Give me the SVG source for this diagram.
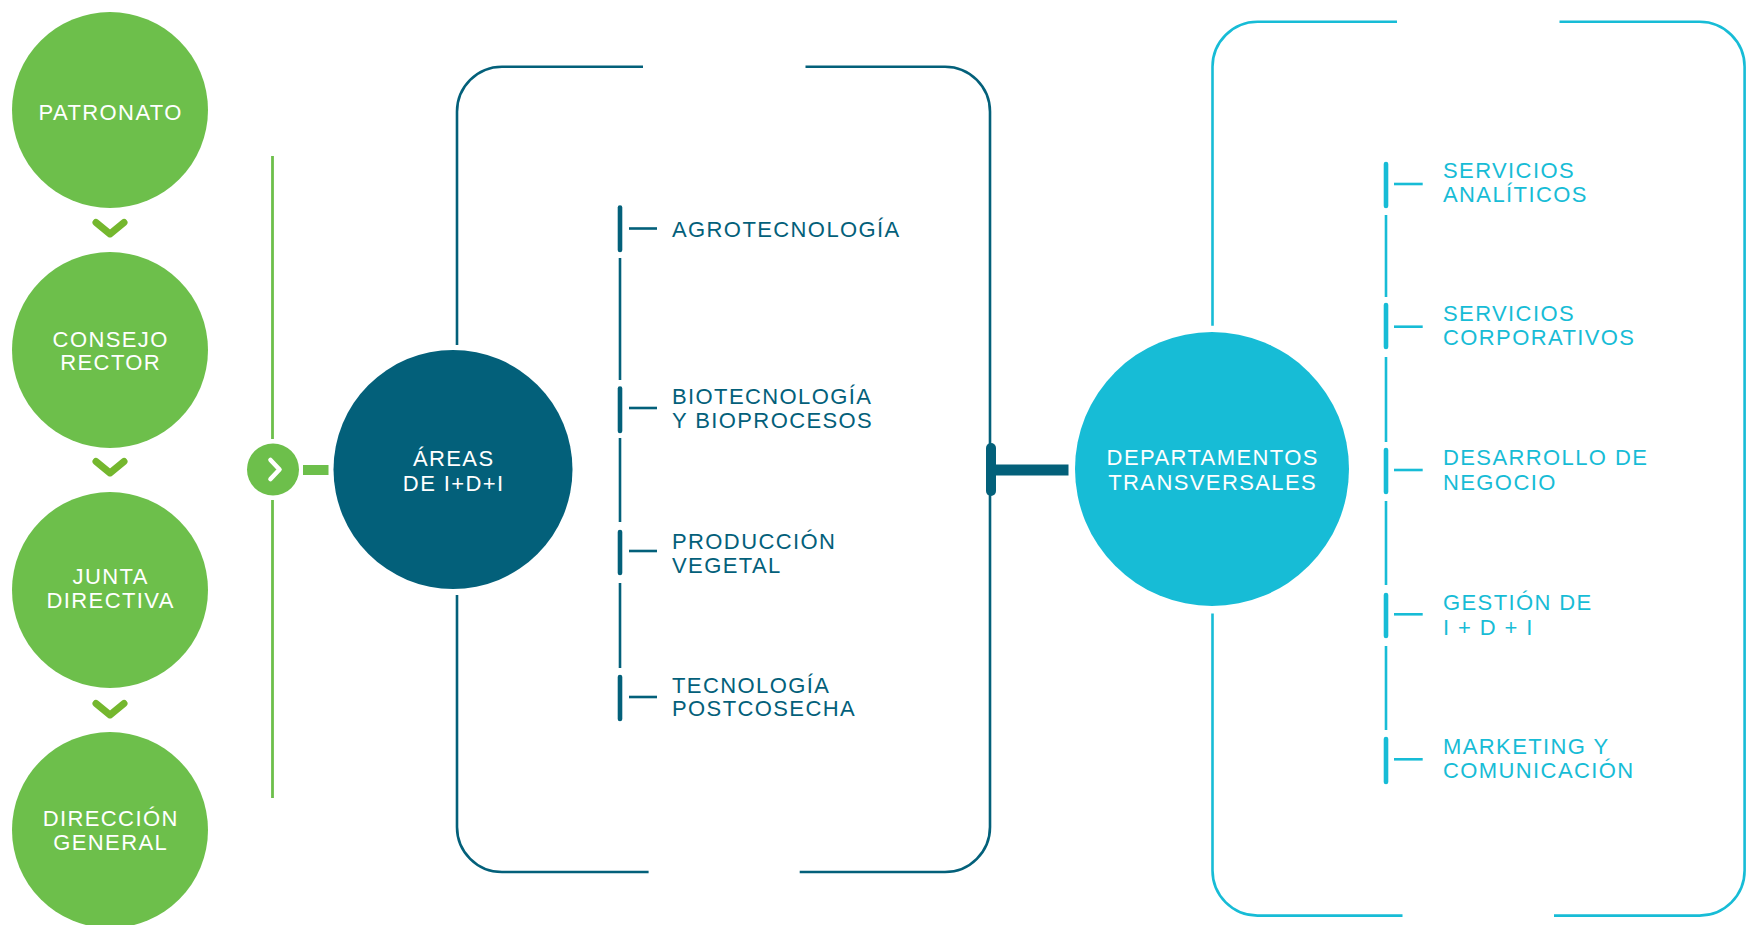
<svg xmlns="http://www.w3.org/2000/svg" width="1764" height="925" viewBox="0 0 1764 925">
<style>
text{font-family:"Liberation Sans",Arial,sans-serif;font-size:22px;letter-spacing:1.4px}
.w{fill:#ffffff}
.c{text-anchor:middle}
.tl{fill:#03607a}
.cl{fill:#17bcd6}
.gc{fill:#6dbf4b}
.chev{fill:none;stroke:#74b72e;stroke-width:7;stroke-linecap:round;stroke-linejoin:round}
.tealB{fill:none;stroke:#03607a;stroke-width:2.6}
.cyanB{fill:none;stroke:#17bcd6;stroke-width:2.6}
.thkT{stroke:#03607a;stroke-width:4.6;stroke-linecap:round}
.thnT{stroke:#03607a;stroke-width:2.6}
.thkC{stroke:#17bcd6;stroke-width:4.6;stroke-linecap:round}
.thnC{stroke:#17bcd6;stroke-width:2.6}
</style>
<rect width="1764" height="925" fill="#ffffff"/>

<g id="connectors">
  <!-- chevrons between governance circles -->
  <polyline class="chev" points="96,222.5 110,234 124,222.5"/>
  <polyline class="chev" points="96,461.5 110,473 124,461.5"/>
  <polyline class="chev" points="96,703.5 110,715 124,703.5"/>
  <!-- green vertical line -->
  <line x1="272.5" y1="156" x2="272.5" y2="439" stroke="#6dbf4b" stroke-width="2.8"/>
  <line x1="272.5" y1="500" x2="272.5" y2="798" stroke="#6dbf4b" stroke-width="2.8"/>
  <rect x="303" y="465" width="25.5" height="10" fill="#6dbf4b"/>
  <!-- teal bracket -->
  <path class="tealB" d="M457,345 V111.7 A45,45 0 0 1 502,66.7 H643"/>
  <path class="tealB" d="M805.5,66.7 H945 A45,45 0 0 1 990,111.7 V827 A45,45 0 0 1 945,872 H799.7"/>
  <path class="tealB" d="M648.6,872 H502 A45,45 0 0 1 457,827 V595"/>
  <line x1="991" y1="448" x2="991" y2="491" stroke="#03607a" stroke-width="10" stroke-linecap="round"/>
  <rect x="991" y="464.5" width="77.5" height="11" fill="#03607a"/>
  <!-- teal inner bar -->
  <line class="thkT" x1="620" y1="207.5" x2="620" y2="250"/>
  <line class="thnT" x1="620" y1="258" x2="620" y2="380"/>
  <line class="thkT" x1="620" y1="388.5" x2="620" y2="431"/>
  <line class="thnT" x1="620" y1="438" x2="620" y2="522"/>
  <line class="thkT" x1="620" y1="532" x2="620" y2="573"/>
  <line class="thnT" x1="620" y1="583" x2="620" y2="668"/>
  <line class="thkT" x1="620" y1="677" x2="620" y2="719"/>
  <line class="thnT" x1="629" y1="228.5" x2="657" y2="228.5"/>
  <line class="thnT" x1="629" y1="408" x2="657" y2="408"/>
  <line class="thnT" x1="629" y1="551" x2="657" y2="551"/>
  <line class="thnT" x1="629" y1="697" x2="657" y2="697"/>
  <!-- cyan bracket -->
  <path class="cyanB" d="M1212.5,325.7 V66.8 A45,45 0 0 1 1257.5,21.8 H1397"/>
  <path class="cyanB" d="M1559.5,21.8 H1699.6 A45,45 0 0 1 1744.6,66.8 V870.6 A45,45 0 0 1 1699.6,915.6 H1554"/>
  <path class="cyanB" d="M1402.5,915.6 H1257.5 A45,45 0 0 1 1212.5,870.6 V613.6"/>
  <!-- cyan inner bar -->
  <line class="thkC" x1="1386" y1="164" x2="1386" y2="206"/>
  <line class="thnC" x1="1386" y1="215" x2="1386" y2="297"/>
  <line class="thkC" x1="1386" y1="305" x2="1386" y2="347"/>
  <line class="thnC" x1="1386" y1="357" x2="1386" y2="442"/>
  <line class="thkC" x1="1386" y1="450" x2="1386" y2="492"/>
  <line class="thnC" x1="1386" y1="501" x2="1386" y2="585"/>
  <line class="thkC" x1="1386" y1="595" x2="1386" y2="636"/>
  <line class="thnC" x1="1386" y1="646" x2="1386" y2="730"/>
  <line class="thkC" x1="1386" y1="739" x2="1386" y2="782"/>
  <line class="thnC" x1="1394" y1="184" x2="1422.7" y2="184"/>
  <line class="thnC" x1="1394" y1="326.7" x2="1422.7" y2="326.7"/>
  <line class="thnC" x1="1394" y1="470" x2="1422.7" y2="470"/>
  <line class="thnC" x1="1394" y1="614.3" x2="1422.7" y2="614.3"/>
  <line class="thnC" x1="1394" y1="759.3" x2="1422.7" y2="759.3"/>
</g>

<g id="patronato">
  <circle class="gc" cx="110" cy="110" r="98"/>
  <text class="w c" x="110.7" y="119.5">PATRONATO</text>
</g>
<g id="consejo-rector">
  <circle class="gc" cx="110" cy="350" r="98"/>
  <text class="w c" x="110.7" y="346.7">CONSEJO</text>
  <text class="w c" x="110.7" y="369.5">RECTOR</text>
</g>
<g id="junta-directiva">
  <circle class="gc" cx="110" cy="590" r="98"/>
  <text class="w c" x="110.7" y="584">JUNTA</text>
  <text class="w c" x="110.7" y="607.7">DIRECTIVA</text>
</g>
<g id="direccion-general">
  <circle class="gc" cx="110" cy="830" r="98"/>
  <text class="w c" x="110.7" y="826">DIRECCIÓN</text>
  <text class="w c" x="110.7" y="849.5">GENERAL</text>
</g>
<g id="arrow-node">
  <circle cx="273" cy="469.5" r="26" fill="#6dbf4b"/>
  <polyline points="270.5,460 279.5,469.5 270.5,479" fill="none" stroke="#ffffff" stroke-width="4.6" stroke-linecap="round" stroke-linejoin="round"/>
</g>
<g id="areas">
  <circle cx="453" cy="469.5" r="119.5" fill="#03607a"/>
  <text class="w c" x="453.7" y="465.5">ÁREAS</text>
  <text class="w c" x="453.7" y="490.5">DE I+D+I</text>
</g>
<g id="agrotecnologia"><text class="tl" x="672" y="236.5">AGROTECNOLOGÍA</text></g>
<g id="biotecnologia">
  <text class="tl" x="672" y="403.8">BIOTECNOLOGÍA</text>
  <text class="tl" x="672" y="428">Y BIOPROCESOS</text>
</g>
<g id="produccion-vegetal">
  <text class="tl" x="672" y="548.5">PRODUCCIÓN</text>
  <text class="tl" x="672" y="572.5">VEGETAL</text>
</g>
<g id="tecnologia-postcosecha">
  <text class="tl" x="672" y="692.5">TECNOLOGÍA</text>
  <text class="tl" x="672" y="716.3">POSTCOSECHA</text>
</g>
<g id="departamentos">
  <circle cx="1212" cy="469" r="137" fill="#17bcd6"/>
  <text class="w c" x="1212.7" y="464.5">DEPARTAMENTOS</text>
  <text class="w c" x="1212.7" y="489.5">TRANSVERSALES</text>
</g>
<g id="servicios-analiticos">
  <text class="cl" x="1443" y="178">SERVICIOS</text>
  <text class="cl" x="1443" y="202">ANALÍTICOS</text>
</g>
<g id="servicios-corporativos">
  <text class="cl" x="1443" y="321.3">SERVICIOS</text>
  <text class="cl" x="1443" y="345.3">CORPORATIVOS</text>
</g>
<g id="desarrollo-negocio">
  <text class="cl" x="1443" y="465.3">DESARROLLO DE</text>
  <text class="cl" x="1443" y="489.5">NEGOCIO</text>
</g>
<g id="gestion-idi">
  <text class="cl" x="1443" y="610.3">GESTIÓN DE</text>
  <text class="cl" x="1443" y="634.5">I + D + I</text>
</g>
<g id="marketing">
  <text class="cl" x="1443" y="754.3">MARKETING Y</text>
  <text class="cl" x="1443" y="778">COMUNICACIÓN</text>
</g>
</svg>
